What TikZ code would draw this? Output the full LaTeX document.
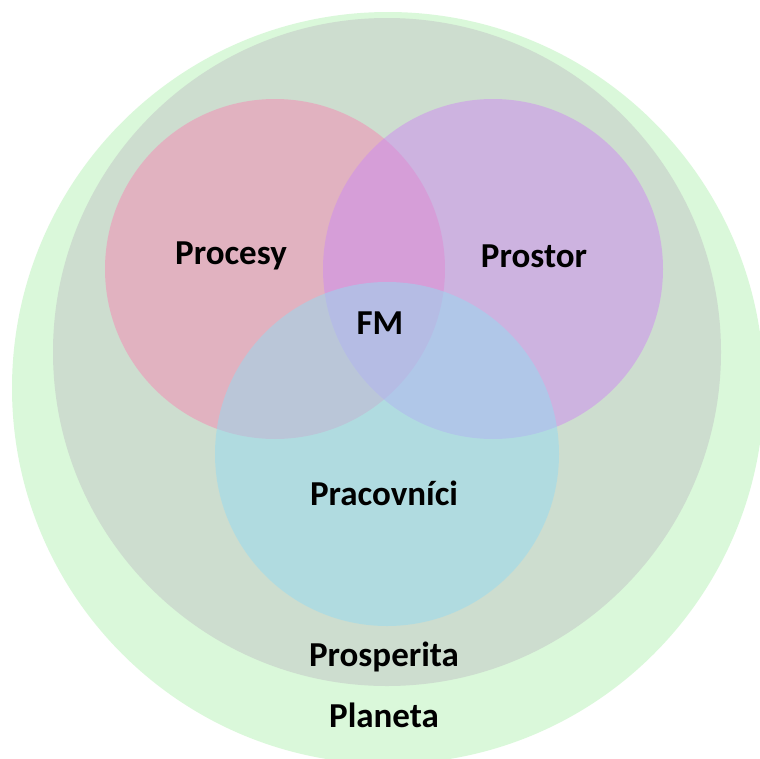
\documentclass[tikz,border=0pt]{standalone}
\usepackage{fontspec}
\setmainfont{Carlito}
\definecolor{planetc}{RGB}{218,248,218}
\definecolor{prospc}{RGB}{205,221,207}
\definecolor{pinkc}{RGB}{245,137,179}
\definecolor{purplec}{RGB}{205,139,241}
\definecolor{bluec}{RGB}{149,219,241}
\tikzset{
  lbl/.style={font=\bfseries\fontsize{35}{40}\selectfont, text=black, inner sep=0pt},
  blend/.style={fill opacity=0.5}
}
\begin{document}
\begin{tikzpicture}[x=1pt,y=-1pt]
\useasboundingbox (0,0) rectangle (760,758);
\clip (0,0) rectangle (760,758);
\fill[planetc] (388,388) circle (376);
\fill[prospc] (387,352) circle (334);
\fill[pinkc, blend] (275,269) circle (170);
\fill[purplec, blend] (493,269) circle (170);
\fill[bluec, blend] (387,454) circle (172);
\node[lbl] (procesy) at (231,256) {Procesy};
\node[lbl] (prostor) at (534,256) {Prostor};
\node[lbl] (fm) at (380,323) {FM};
\node[lbl] (pracovnici) at (384,493) {Pracovníci};
\node[lbl] (prosperita) at (384,657) {Prosperita};
\node[lbl] (planeta) at (384,715) {Planeta};
\end{tikzpicture}
\end{document}
